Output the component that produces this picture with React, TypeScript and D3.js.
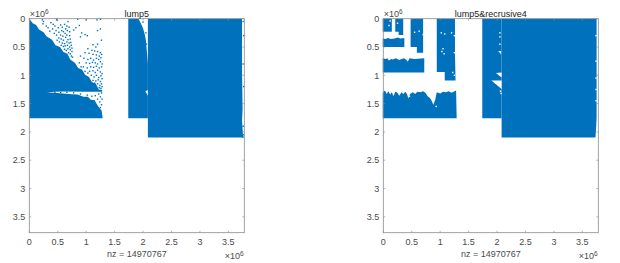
import React from "react";
import * as d3 from "d3";

type P = [number, number];

const xTicks = [0, 0.5, 1, 1.5, 2, 2.5, 3, 3.5];
const yTicks = [0, 0.5, 1, 1.5, 2, 2.5, 3, 3.5];
const axisMax = 3.78;
const xLabel = "nz = 14970767";

// Regions of non-zeros, in units of 1e6 (column, row)
const lumpLower: P[] = [[0,0],[0.06,0.08],[0.12,0.11],[0.17,0.19],[0.25,0.24],[0.3,0.31],[0.4,0.37],[0.46,0.47],[0.54,0.5],[0.6,0.59],[0.67,0.62],[0.72,0.72],[0.8,0.78],[0.86,0.87],[0.93,0.9],[0.98,0.99],[1.05,1.03],[1.1,1.12],[1.17,1.15],[1.22,1.25],[1.28,1.26],[1.28,1.29],[1.0,1.29],[0.55,1.285],[0.3,1.3],[0.55,1.315],[0.75,1.335],[0.85,1.34],[0.95,1.38],[1.03,1.38],[1.08,1.43],[1.15,1.44],[1.18,1.5],[1.22,1.56],[1.27,1.62],[1.29,1.76],[0,1.76]];
const lumpMid: P[] = [[1.74,0],[1.92,0],[1.96,0.08],[2.0,0.17],[2.03,0.28],[2.05,0.38],[2.07,0.61],[2.085,0.8],[2.085,1.26],[2.04,1.28],[2.085,1.36],[2.085,1.76],[1.74,1.76]];
const lumpRight: P[] = [[2.085,0],[3.74,0],[3.74,0.9],[3.75,1.6],[3.74,1.8],[3.76,2.1],[2.085,2.1]];
const lumpRegions = [lumpLower, lumpMid, lumpRight];

const lumpDots: P[] = [
[0.23,0.02],[0.48,0.01],[0.49,0.03],[0.85,0.01],[1.0,0.02],[1.19,0.02],[1.25,0.01],[0.25,0.05],[0.24,0.09],[0.3,0.13],[0.33,0.16],[0.38,0.07],[0.42,0.1],[0.41,0.18],[0.36,0.22],[0.45,0.13],[0.47,0.21],[0.51,0.16],[0.44,0.26],[0.48,0.29],[0.52,0.24],[0.55,0.11],[0.58,0.15],[0.62,0.1],[0.66,0.13],[0.68,0.05],[0.7,0.15],[0.57,0.21],[0.6,0.23],[0.64,0.18],[0.67,0.21],[0.71,0.23],[0.55,0.29],[0.59,0.31],[0.63,0.26],[0.66,0.29],[0.71,0.3],[0.52,0.34],[0.56,0.36],[0.6,0.38],[0.64,0.33],[0.68,0.37],[0.72,0.36],[0.49,0.38],[0.53,0.41],[0.58,0.43],[0.62,0.44],[0.66,0.41],[0.7,0.43],[0.73,0.42],[0.56,0.47],[0.6,0.49],[0.63,0.48],[0.67,0.47],[0.71,0.5],[0.74,0.47],[0.62,0.54],[0.65,0.56],[0.68,0.53],[0.72,0.55],[0.75,0.52],[0.69,0.6],[0.72,0.62],[0.75,0.58],[0.74,0.66],[0.76,0.68],[0.78,0.2],[0.82,0.16],[0.88,0.12],[0.92,0.25],[0.98,0.28],[1.02,0.3],[0.9,0.32],[1.2,0.21],[1.25,0.18],[1.27,0.38],[1.2,0.45],
[1.12,0.46],[1.17,0.5],[1.03,0.53],[0.98,0.6],[1.05,0.61],[1.1,0.56],[1.15,0.57],[1.2,0.58],[1.25,0.6],[1.12,0.63],[1.18,0.64],[1.23,0.66],[1.27,0.63],[0.9,0.66],[0.96,0.7],[1.03,0.72],[1.08,0.7],[1.13,0.73],[1.18,0.7],[1.22,0.72],[1.26,0.69],[0.88,0.78],[1.0,0.78],[1.06,0.79],[1.11,0.77],[1.16,0.78],[1.2,0.8],[1.25,0.76],[1.28,0.8],[0.95,0.85],[1.02,0.87],[1.08,0.85],[1.13,0.86],[1.18,0.84],[1.23,0.87],[1.27,0.85],[0.91,0.85],[0.98,0.93],[1.03,0.96],[1.06,0.93],[1.12,0.92],[1.16,0.95],[1.2,0.91],[1.25,0.94],[1.28,0.97],[1.09,1.0],[1.14,1.03],[1.18,1.0],[1.22,1.04],[1.26,1.01],[1.28,1.06],[1.12,1.09],[1.17,1.1],[1.21,1.08],[1.25,1.11],[1.15,1.14],[1.2,1.15],[1.24,1.18],[1.27,1.15],[1.23,1.22],[1.26,1.23],[1.28,1.2],
[0.33,1.29],[0.45,1.3],[0.55,1.3],[0.66,1.3],[0.78,1.31],[0.9,1.33],[1.02,1.35],[1.1,1.37],[1.16,1.36],[1.22,1.33],[1.27,1.31],[1.25,1.38],[1.28,1.42],[1.2,1.42],[1.24,1.47],[1.27,1.52],[1.25,1.57],
[2.0,0.06],[2.05,0.25],[2.06,0.45],[3.76,0.05],[3.77,0.3],[3.76,0.8],[3.77,1.2],[3.76,1.9],[3.77,2.05],[3.76,2.09]
];

const recA: P[] = [[-0.01,0],[0.15,0],[0.15,0.23],[-0.01,0.23]];
const recB: P[] = [[0.21,0],[0.35,0],[0.35,0.29],[0.27,0.29],[0.27,0.23],[0.21,0.23]];
const recC: P[] = [[0.48,0],[0.7,0],[0.7,0.6],[0.59,0.6],[0.59,0.5],[0.48,0.5]];
const recD: P[] = [[0.94,0],[1.26,0],[1.26,0.6],[1.27,1.09],[1.08,1.09],[1.08,0.94],[0.94,0.94]];
const recE: P[] = [[-0.01,0.35],[0.04,0.36],[0.08,0.34],[0.14,0.36],[0.2,0.35],[0.25,0.33],[0.3,0.35],[0.37,0.34],[0.37,0.5],[-0.01,0.5]];
const recF: P[] = [[-0.01,0.7],[0.04,0.71],[0.07,0.7],[0.1,0.74],[0.14,0.71],[0.17,0.72],[0.22,0.7],[0.28,0.73],[0.32,0.71],[0.36,0.7],[0.4,0.72],[0.43,0.76],[0.46,0.7],[0.55,0.71],[0.72,0.7],[0.72,0.95],[-0.01,0.95]];
const recG: P[] = [[-0.01,1.31],[0.03,1.27],[0.06,1.33],[0.09,1.28],[0.12,1.34],[0.15,1.3],[0.18,1.37],[0.21,1.29],[0.25,1.31],[0.28,1.36],[0.32,1.3],[0.35,1.33],[0.39,1.29],[0.42,1.34],[0.44,1.41],[0.47,1.33],[0.52,1.3],[0.56,1.33],[0.6,1.29],[0.65,1.3],[0.7,1.28],[0.74,1.31],[0.78,1.37],[0.82,1.4],[0.85,1.45],[0.88,1.52],[0.91,1.44],[0.94,1.3],[1.0,1.32],[1.05,1.29],[1.1,1.3],[1.15,1.28],[1.2,1.31],[1.28,1.27],[1.29,1.76],[-0.01,1.76]];
const recH: P[] = [[1.74,0],[2.08,0],[2.08,1.76],[1.74,1.76]];
const recI: P[] = [[2.08,0],[3.75,0],[3.75,1.75],[3.74,1.95],[3.73,2.1],[2.08,2.1]];
const recRegions = [recA, recB, recC, recD, recE, recF, recG, recH, recI];

const recNotchA: P[] = [[1.9,1.09],[2.08,1.09],[2.08,1.24]];
const recNotchB: P[] = [[1.98,0.96],[2.08,0.95],[2.08,1.04]];
const recNotchC: P[] = [[2.02,0.57],[2.07,0.57],[2.07,0.63]];
const recNotches = [recNotchA, recNotchB, recNotchC];

const recHoles: P[] = [
[0.12,0.04],[0.1,0.12],[0.25,0.08],[0.55,0.24],[0.63,0.22],[0.7,0.28],[1.02,0.25],[1.08,0.27],[1.2,0.25],[1.25,0.3],[1.05,0.53],[1.03,0.58],[1.25,0.6],[1.07,0.62],[1.22,0.95],[1.25,1.0],[2.05,0.25],[2.05,0.32],[2.05,0.45],[2.06,1.28],[2.07,1.32],[3.74,0.3],[3.74,0.75],[3.74,1.05],[3.74,1.25],[3.74,1.45],
[0.86,1.38],[0.9,1.42],[0.46,1.37],[0.76,1.3],[0.93,1.55]
];

const white = "#fff";
const blue = "#0072BD";
const axisColor = "#8a8a8a";
const textColor = "#4a4a4a";
const font = "'Liberation Sans', Arial, sans-serif";

function Panel({ left, title, regions, dots, holes, notches }: { left: number; title: string; regions: P[][]; dots: P[]; holes: P[]; notches: P[][] }) {
  const width = 215;
  const top = 18.7;
  const height = 214;
  const x = d3.scaleLinear().domain([0, axisMax]).range([left, left + width]);
  const y = d3.scaleLinear().domain([0, axisMax]).range([top, top + height]);
  const area = d3.line<P>().x((d) => x(d[0])).y((d) => y(d[1]));
  const bottom = top + height;
  const right = left + width;
  return (
    <g fontFamily={font} fill={textColor}>
      {regions.map((r, i) => (
        <path key={i} d={(area(r) ?? "") + "Z"} fill={blue} />
      ))}
      {dots.map((d, i) => (
        <rect key={i} x={x(d[0]) - 0.7} y={y(d[1]) - 0.7} width={1.4} height={1.4} fill={blue} />
      ))}
      {notches.map((r, i) => (
        <path key={i} d={(area(r) ?? "") + "Z"} fill={white} />
      ))}
      {holes.map((d, i) => (
        <rect key={i} x={x(d[0]) - 0.7} y={y(d[1]) - 0.7} width={1.4} height={1.4} fill={white} />
      ))}
      <rect x={left} y={top} width={width} height={height} fill="none" stroke={axisColor} strokeWidth={0.8} />
      {xTicks.map((t) => (
        <g key={t}>
          <line x1={x(t)} x2={x(t)} y1={bottom} y2={bottom - 2} stroke={axisColor} strokeWidth={0.6} />
          <line x1={x(t)} x2={x(t)} y1={top} y2={top + 2} stroke={axisColor} strokeWidth={0.6} />
          <text x={x(t)} y={bottom + 12.3} fontSize={9} textAnchor="middle">{t}</text>
        </g>
      ))}
      {yTicks.map((t) => (
        <g key={t}>
          <line x1={left} x2={left + 2} y1={y(t)} y2={y(t)} stroke={axisColor} strokeWidth={0.6} />
          <line x1={right} x2={right - 2} y1={y(t)} y2={y(t)} stroke={axisColor} strokeWidth={0.6} />
          <text x={left - 4} y={y(t) + 3.2} fontSize={9} textAnchor="end">{t}</text>
        </g>
      ))}
      <text x={left + 107.5} y={16.5} fontSize={9} textAnchor="middle" fill="#222">{title}</text>
      <text x={left + 107.5} y={bottom + 24.5} fontSize={9} textAnchor="middle">{xLabel}</text>
      <text x={left + 0.5} y={17} fontSize={9}>×10<tspan fontSize={6.5} dy={-3}>6</tspan></text>
      <text x={right - 19.5} y={bottom + 26} fontSize={9}>×10<tspan fontSize={6.5} dy={-3}>6</tspan></text>
    </g>
  );
}

export default function App() {
  return (
    <svg width={620} height={263} style={{ position: "fixed", left: 0, top: 0, background: white }}>
      <Panel left={29.3} title="lump5" regions={lumpRegions} dots={lumpDots} holes={[]} notches={[]} />
      <Panel left={383.3} title="lump5&recrusive4" regions={recRegions} dots={[]} holes={recHoles} notches={recNotches} />
    </svg>
  );
}
